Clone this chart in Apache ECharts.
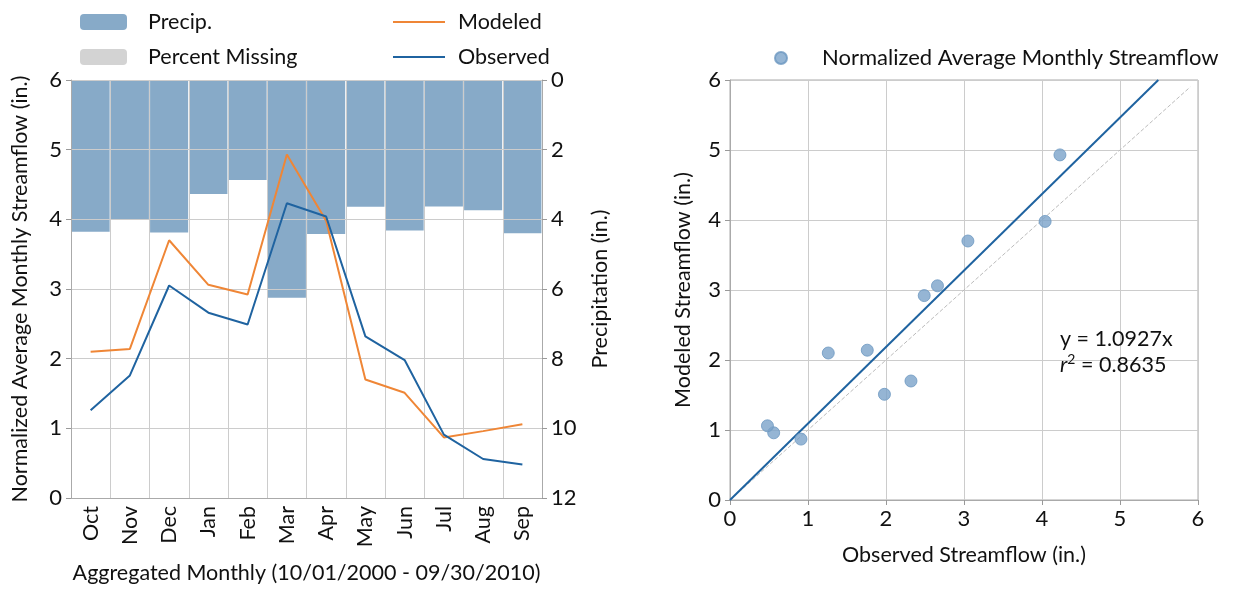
<!DOCTYPE html>
<html><head><meta charset="utf-8">
<script src="https://cdn.jsdelivr.net/npm/echarts@6/dist/echarts.min.js"></script>
<style>html,body{margin:0;padding:0;background:#fff}#c{width:1238px;height:589px}</style>
</head><body><div id="c"></div>
<script>
const months = ['Oct','Nov','Dec','Jan','Feb','Mar','Apr','May','Jun','Jul','Aug','Sep'];
const precip = [4.36, 4.02, 4.38, 3.27, 2.87, 6.25, 4.42, 3.64, 4.32, 3.63, 3.74, 4.40];
const percentMissing = [0,0,0,0,0,0,0,0,0,0,0,0];
const modeled = [2.10, 2.14, 3.70, 3.06, 2.92, 4.93, 3.98, 1.70, 1.51, 0.87, 0.96, 1.06];
const observed = [1.26, 1.76, 3.05, 2.66, 2.49, 4.23, 4.04, 2.32, 1.98, 0.91, 0.56, 0.48];
const slope = 1.0927;
const r2 = 0.8635;
const oneToOneMax = 5.9;

const FONT = 'Lato';
const FS = 21.5;
const scatterData = observed.map((o,i)=>[o, modeled[i]]);
const gridColor = '#cccccc';
const tickStyle = {show:true, length:5, lineStyle:{color:'#999'}};
const lbl = {color:'#111', fontSize:22, fontFamily:FONT};
const nameStyle = {fontSize:FS, color:'#111', fontFamily:FONT};

const chart = echarts.init(document.getElementById('c'), null, {renderer:'canvas'});
chart.setOption({
  animation:false,
  textStyle:{fontFamily:FONT},
  legend:[
    {data:['Precip.','Percent Missing'], orient:'vertical', left:75, top:6,
     itemWidth:47, itemHeight:16, itemGap:13,
     textStyle:{fontSize:FS, color:'#111', fontFamily:FONT, padding:[0,0,0,16], lineHeight:20}},
    {data:[{name:'Modeled', icon:'rect'},{name:'Observed', icon:'rect'}], orient:'vertical', left:388, top:6,
     itemWidth:52, itemHeight:2, itemGap:13,
     textStyle:{fontSize:FS, color:'#111', fontFamily:FONT, padding:[0,0,0,8], lineHeight:20}},
    {data:['Normalized Average Monthly Streamflow'], left:769, top:42,
     itemWidth:12, itemHeight:12, icon:'circle',
     textStyle:{fontSize:22, color:'#111', fontFamily:FONT, padding:[0,0,0,30]}}
  ],
  grid:[
    {left:71, right:696, top:80, bottom:89},
    {left:730, right:40, top:80, bottom:89, show:true, borderColor:'#aaa', borderWidth:1}
  ],
  xAxis:[
    {type:'category', data:months, gridIndex:0, z:1.5,
     axisLine:{lineStyle:{color:'#aaa'}}, axisTick:{show:false},
     splitLine:{show:true, lineStyle:{color:gridColor}},
     axisLabel:{...lbl, fontSize:FS, rotate:90, margin:8},
     name:'Aggregated Monthly (10/01/2000 - 09/30/2010)', nameLocation:'middle', nameGap:64,
     nameTextStyle:nameStyle},
    {type:'value', gridIndex:1, min:0, max:6, interval:1,
     axisLine:{lineStyle:{color:'#aaa'}}, axisTick:tickStyle,
     splitLine:{show:true, lineStyle:{color:gridColor}},
     axisLabel:{...lbl, margin:8},
     name:'Observed Streamflow (in.)', nameLocation:'middle', nameGap:44,
     nameTextStyle:nameStyle}
  ],
  yAxis:[
    {type:'value', gridIndex:0, min:0, max:6, interval:1, z:1.5,
     axisLine:{show:true, lineStyle:{color:'#aaa'}}, axisTick:tickStyle,
     splitLine:{show:true, lineStyle:{color:gridColor}},
     axisLabel:{...lbl, margin:9},
     name:'Normalized Average Monthly Streamflow (in.)', nameLocation:'middle', nameGap:40,
     nameTextStyle:nameStyle},
    {type:'value', gridIndex:0, min:0, max:12, interval:2, inverse:true, position:'right', z:1.5,
     axisLine:{show:true, lineStyle:{color:'#aaa'}}, axisTick:tickStyle,
     splitLine:{show:false},
     axisLabel:{...lbl, margin:9},
     name:'Precipitation (in.)', nameLocation:'middle', nameGap:47,
     nameTextStyle:nameStyle},
    {type:'value', gridIndex:1, min:0, max:6, interval:1,
     axisLine:{show:true, lineStyle:{color:'#aaa'}}, axisTick:tickStyle,
     splitLine:{show:true, lineStyle:{color:gridColor}},
     axisLabel:{...lbl, margin:9},
     name:'Modeled Streamflow (in.)', nameLocation:'middle', nameGap:36,
     nameTextStyle:nameStyle}
  ],
  series:[
    {name:'Precip.', type:'bar', xAxisIndex:0, yAxisIndex:1, data:precip, z:1,
     barWidth:'97%', barGap:'-100%', itemStyle:{color:'#87aac8'}},
    {name:'Percent Missing', type:'bar', xAxisIndex:0, yAxisIndex:1, data:percentMissing, z:1,
     barWidth:'97%', barGap:'-100%', itemStyle:{color:'#d3d3d3'}},
    {name:'Modeled', type:'line', xAxisIndex:0, yAxisIndex:0, data:modeled, z:3,
     symbol:'none', lineStyle:{color:'#ef8636', width:2}, itemStyle:{color:'#ef8636'}},
    {name:'Observed', type:'line', xAxisIndex:0, yAxisIndex:0, data:observed, z:3,
     symbol:'none', lineStyle:{color:'#1f63a0', width:2}, itemStyle:{color:'#1f63a0'}},
    {name:'one-to-one', type:'line', xAxisIndex:1, yAxisIndex:2, data:[[0,0],[oneToOneMax,oneToOneMax]],
     symbol:'none', lineStyle:{color:'#bbbbbb', width:1, type:'dashed'}, z:2, silent:true},
    {name:'fit', type:'line', xAxisIndex:1, yAxisIndex:2, data:[[0,0],[6/slope,6]],
     symbol:'none', lineStyle:{color:'#1f63a0', width:2}, z:3, silent:true},
    {name:'Normalized Average Monthly Streamflow', type:'scatter', xAxisIndex:1, yAxisIndex:2,
     data:scatterData, symbolSize:12, z:4,
     itemStyle:{color:'#7aa3c9', borderColor:'#6b97c0', borderWidth:1}}
  ],
  graphic:[
    {type:'text', left:1060, top:326, z:10, style:{
      text:'y = ' + slope.toFixed(4) + 'x\n{i|r}{s|2} = ' + r2.toFixed(4),
      fontSize:FS, fontFamily:FONT, fill:'#111', lineHeight:26,
      rich:{i:{fontStyle:'italic', fontSize:FS, fontFamily:FONT, fill:'#111'},
            s:{fontSize:14, fontFamily:FONT, verticalAlign:'top', padding:[0,0,10,0], fill:'#111'}}
    }}
  ]
});
</script></body></html>
